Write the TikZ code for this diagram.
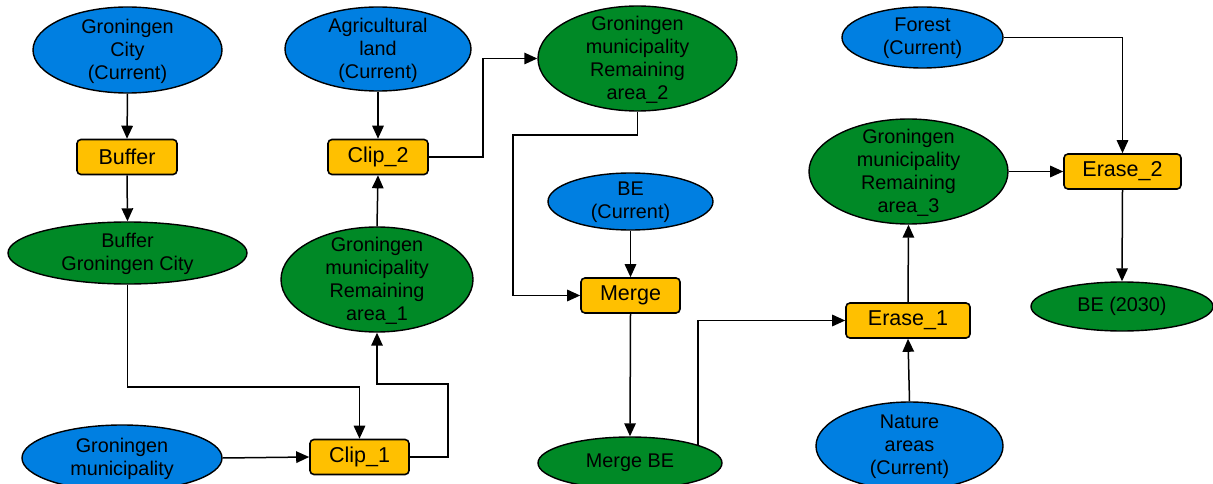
\documentclass[tikz,border=0pt]{standalone}
\usepackage{fontspec}
\setmainfont{Liberation Sans}
\usetikzlibrary{shapes.geometric,arrows.meta}
\definecolor{inblue}{RGB}{0,127,225}
\definecolor{outgreen}{RGB}{0,137,38}
\definecolor{toolorange}{RGB}{255,192,0}
\tikzset{
  ell/.style={ellipse, draw=black, line width=1.4pt, inner sep=0pt},
  inell/.style={ell, fill=inblue},
  outell/.style={ell, fill=outgreen},
  etext/.style={align=center, font=\fontsize{19.8}{23}\selectfont, inner sep=0pt},
  tool/.style={rectangle, rounded corners=4pt, draw=black, line width=1.6pt, fill=toolorange,
    font=\fontsize{21.5}{25}\selectfont, inner sep=0pt, minimum height=35pt},
  arr/.style={line width=1.5pt, -{Triangle[length=13pt,width=11.5pt]}},
}
\begin{document}
\begin{tikzpicture}[x=1pt,y=-1pt]
\useasboundingbox (0,0) rectangle (1213,484);
% input ellipses
\node[inell, minimum width=189pt, minimum height=86pt] (gc) at (127.5,50) {};
\node[etext] (gct) at ([yshift=-1pt]gc.center) {Groningen\\City\\(Current)};
\node[inell, minimum width=186pt, minimum height=84pt] (ag) at (378,49) {};
\node[etext] (agt) at ([yshift=-1pt]ag.center) {Agricultural\\land\\(Current)};
\node[inell, minimum width=200pt, minimum height=66pt] (gm) at (122,458) {};
\node[etext] (gmt) at ([yshift=-1pt]gm.center) {Groningen\\municipality};
\node[inell, minimum width=165pt, minimum height=57pt] (bec) at (630.5,201.5) {};
\node[etext] (bect) at ([yshift=-1pt]bec.center) {BE\\(Current)};
\node[inell, minimum width=161pt, minimum height=61pt] (for) at (922.5,37.5) {};
\node[etext] (fort) at ([yshift=-1pt]for.center) {Forest\\(Current)};
\node[inell, minimum width=187pt, minimum height=88pt] (nat) at (909.5,446) {};
\node[etext] (natt) at ([yshift=-1pt]nat.center) {Nature\\areas\\(Current)};
% output ellipses
\node[outell, minimum width=239pt, minimum height=62pt] (bgc) at (127.5,253) {};
\node[etext] (bgct) at ([yshift=-1pt]bgc.center) {Buffer\\Groningen City};
\node[outell, minimum width=192pt, minimum height=105pt] (a1) at (377,279.5) {};
\node[etext] (a1t) at ([yshift=-1pt]a1.center) {Groningen\\municipality\\Remaining\\area\_1};
\node[outell, minimum width=199pt, minimum height=105pt] (a2) at (637.5,58.5) {};
\node[etext] (a2t) at ([yshift=-1pt]a2.center) {Groningen\\municipality\\Remaining\\area\_2};
\node[outell, minimum width=184pt, minimum height=52pt] (mbe) at (630,463) {};
\node[etext] (mbet) at (mbe) {Merge BE};
\node[outell, minimum width=199pt, minimum height=105pt] (a3) at (908.5,171.5) {};
\node[etext] (a3t) at ([yshift=-1pt]a3.center) {Groningen\\municipality\\Remaining\\area\_3};
\node[outell, minimum width=182pt, minimum height=49pt] (be30) at (1122,306.5) {};
\node[etext] (be30t) at (be30) {BE (2030)};
% tools
\node[tool, minimum width=100pt] (buf) at (127,157) {Buffer};
\node[tool, minimum width=100pt] (c2) at (378,157) {Clip\_2};
\node[tool, minimum width=99pt] (c1) at (359.5,457) {Clip\_1};
\node[tool, minimum width=99pt] (mg) at (630.5,295.5) {Merge};
\node[tool, minimum width=124pt] (e1) at (908,320.5) {Erase\_1};
\node[tool, minimum width=117pt] (e2) at (1122.5,171.5) {Erase\_2};
% connectors
\draw[arr] (gc.south) -- (buf.north);
\draw[arr] (buf.south) -- (bgc.north);
\draw[arr] (bgc.south) |- (250,387) -| (c1.north);
\draw[arr] (gm.east) -- (c1.west);
\draw[arr] (c1.east) -| (448,384) -| (a1.south);
\draw[arr] (a1.north) -- (c2.south);
\draw[arr] (ag.south) -- (c2.north);
\draw[arr] (c2.east) -- (483,157) |- (a2.west);
\draw[arr] (a2.south) |- (513,135) |- (mg.west);
\draw[arr] (bec.south) -- (mg.north);
\draw[arr] (mg.south) -- (mbe.north);
\draw[arr] (mbe.15.5) |- (e1.west);
\draw[arr] (nat.north) -- (e1.south);
\draw[arr] (e1.north) -- (a3.south);
\draw[arr] (a3.east) -- (e2.west);
\draw[arr] (for.east) -| (e2.north);
\draw[arr] (e2.south) -- (be30.north);
\end{tikzpicture}
\end{document}
